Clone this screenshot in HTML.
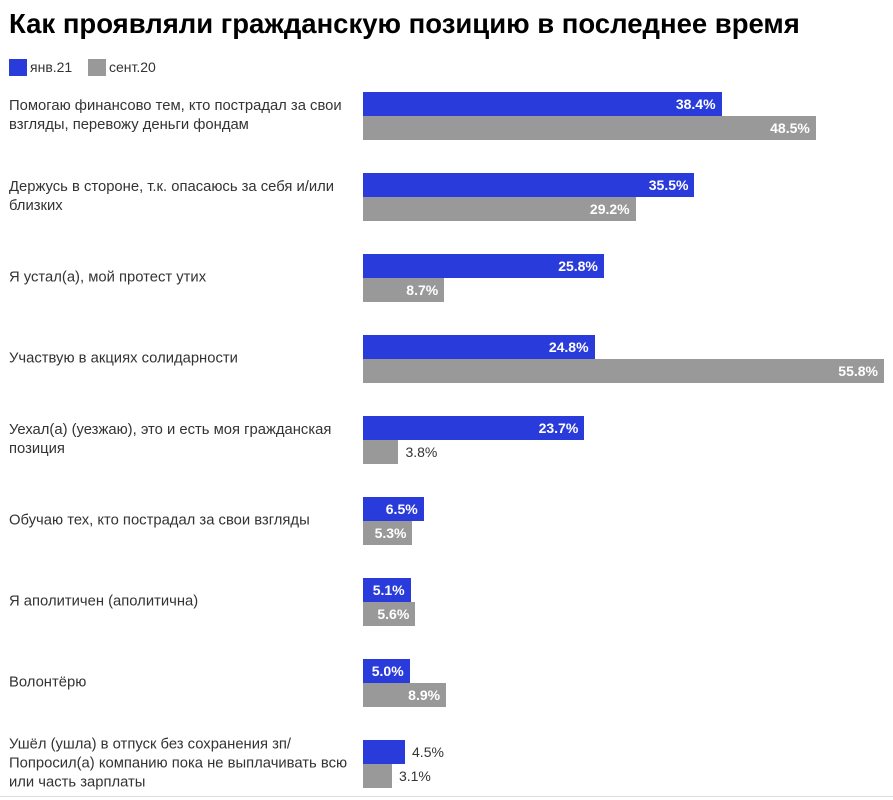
<!DOCTYPE html>
<html><head><meta charset="utf-8"><style>
body{margin:0;width:893px;height:800px;background:#fff;font-family:"Liberation Sans",sans-serif;position:relative;overflow:hidden;color:#333}
.t{position:absolute;left:9px;top:8px;font-size:27.5px;font-weight:bold;color:#000;white-space:nowrap}
.lg{position:absolute;top:59px;width:18px;height:17px}
.lt{position:absolute;top:59px;font-size:14px;color:#333}
.lab{position:absolute;left:9px;width:350px;font-size:14.8px;line-height:19px;transform:translateY(-50%)}
.b{position:absolute;left:363px;height:24px}
.bl{background:#2a3bdb}.gr{background:#999}
.v{position:absolute;font-size:14px;line-height:24px;height:24px}
.in{color:#fff;font-weight:bold;text-align:right}
.out{color:#333}
</style></head><body>
<div class="t">Как проявляли гражданскую позицию в последнее время</div>
<div class="lg bl" style="left:9px"></div><div class="lt" style="left:30px">янв.21</div>
<div class="lg gr" style="left:88px"></div><div class="lt" style="left:109px">сент.20</div>
<div id="c"></div>
<div style="position:absolute;left:0;right:0;top:796px;height:1px;background:#ddd"></div>
<script>
var d=[["Помогаю финансово тем, кто пострадал за свои<br>взгляды, перевожу деньги фондам",38.4,48.5],
["Держусь в стороне, т.к. опасаюсь за себя и/или<br>близких",35.5,29.2],
["Я устал(а), мой протест утих",25.8,8.7],
["Участвую в акциях солидарности",24.8,55.8],
["Уехал(а) (уезжаю), это и есть моя гражданская<br>позиция",23.7,3.8],
["Обучаю тех, кто пострадал за свои взгляды",6.5,5.3],
["Я аполитичен (аполитична)",5.1,5.6],
["Волонтёрю",5.0,8.9],
["Ушёл (ушла) в отпуск без сохранения зп/<br>Попросил(а) компанию пока не выплачивать всю<br>или часть зарплаты",4.5,3.1]];
var h="",k=9.337;
d.forEach(function(r,i){var y=91.5+i*81;
h+='<div class="lab" style="top:'+(y+24.5)+'px">'+r[0]+'</div>';
[[r[1],'bl',y],[r[2],'gr',y+24.5]].forEach(function(b){var w=b[0]*k;
h+='<div class="b '+b[1]+'" style="top:'+b[2]+'px;width:'+w+'px"></div>';
var s=b[0].toFixed(1)+'%';
if(w>45)h+='<div class="v in" style="top:'+b[2]+'px;left:363px;width:'+(w-6)+'px">'+s+'</div>';
else h+='<div class="v out" style="top:'+b[2]+'px;left:'+(363+w+7)+'px">'+s+'</div>';});});
document.getElementById('c').innerHTML=h;
</script>
</body></html>
